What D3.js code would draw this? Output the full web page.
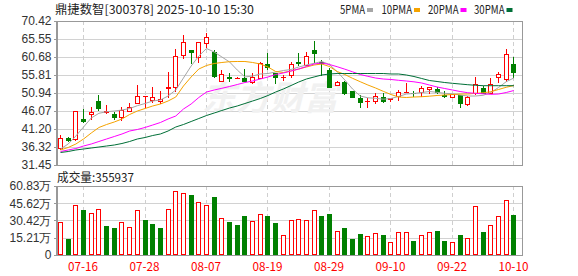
<!DOCTYPE html>
<html>
<head>
<meta charset="utf-8">
<script src="https://cdn.jsdelivr.net/npm/d3@7"></script>
<style>
  body { margin: 0; background: #fff; }
  svg { display: block; }
  .axis text { font-family: "Liberation Sans", Arial, sans-serif; font-size: 12px; fill: #333; }
  .axis path, .axis line { stroke: #999; shape-rendering: crispEdges; }
</style>
</head>
<body>
<svg id="chart" width="578" height="276"></svg>
<script>
// trading days shown
const dates = [
  "07-11","07-14","07-15","07-16","07-17","07-18","07-21","07-22","07-23","07-24",
  "07-25","07-28","07-29","07-30","07-31","08-01","08-04","08-05","08-06","08-07",
  "08-08","08-11","08-12","08-13","08-14","08-15","08-18","08-19","08-20","08-21",
  "08-22","08-25","08-26","08-27","08-28","08-29","09-01","09-02","09-03","09-04",
  "09-05","09-08","09-09","09-10","09-11","09-12","09-15","09-16","09-17","09-18",
  "09-19","09-22","09-23","09-24","09-25","09-26","09-29","09-30","10-09","10-10"
];

const open = [
  35.97,38.84,38.41,43.90,45.17,48.85,45.90,45.17,44.36,46.15,
  48.15,50.05,49.04,48.85,52.20,52.48,61.22,62.57,60.77,64.38,
  61.93,54.18,55.35,54.95,55.08,53.99,55.08,58.70,56.43,55.30,
  55.81,59.20,58.51,62.57,59.41,57.16,53.10,53.99,51.47,49.66,
  48.80,48.85,49.77,49.40,50.13,51.20,50.90,51.12,51.90,52.02,
  50.40,49.94,50.40,48.00,50.85,52.20,51.02,55.18,54.64,58.79
];
const high = [
  39.60,38.95,46.07,46.50,47.23,50.31,47.60,45.90,47.23,48.15,
  53.10,50.20,52.48,51.47,56.54,62.84,66.63,62.60,64.64,67.09,
  62.57,57.16,56.27,55.27,57.34,56.27,59.24,61.84,56.43,55.81,
  59.24,61.66,62.11,65.01,59.87,57.62,54.10,54.10,51.47,50.40,
  49.50,50.85,50.85,49.60,51.75,53.56,51.47,52.83,52.65,52.65,
  51.47,50.60,50.40,50.21,55.40,52.83,55.00,56.70,62.84,60.70
];
const low = [
  35.90,38.00,38.30,43.20,43.90,46.33,45.40,43.90,43.63,46.15,
  48.15,47.23,48.60,48.31,49.77,51.56,60.33,58.97,59.41,63.47,
  55.35,54.18,54.26,54.90,54.18,53.72,55.08,57.34,53.72,54.45,
  55.35,58.51,58.51,59.41,55.81,52.48,53.00,50.70,49.77,47.23,
  47.23,48.15,48.51,48.85,49.04,51.20,50.13,50.13,50.85,51.02,
  49.77,49.80,47.07,47.69,50.70,50.85,50.85,54.00,54.18,55.35
];
const close = [
  38.84,38.35,46.07,43.45,45.71,46.96,46.07,44.50,46.33,47.05,
  50.21,50.13,49.77,49.23,52.48,60.95,64.82,62.10,64.64,66.00,
  55.60,55.99,55.08,55.02,54.18,55.35,58.97,57.89,55.30,55.40,
  58.79,59.08,61.03,61.68,59.10,52.64,53.99,50.85,49.77,48.42,
  48.90,50.13,48.78,49.50,51.12,51.29,50.85,52.37,52.45,51.21,
  50.20,50.58,48.31,49.77,53.50,50.95,53.29,55.99,61.49,56.54
];

// volume in 万 shares
const volume = [
  28.8,14.1,44.1,39.7,37.0,40.6,25.6,23.8,28.8,24.4,
  39.4,30.9,27.3,23.8,40.3,56.2,54.7,52.9,46.4,44.1,
  51.1,32.3,29.1,26.4,34.4,29.7,36.1,34.4,28.2,17.3,
  30.6,31.5,30.6,39.4,34.4,36.4,20.9,23.8,14.1,18.5,
  16.5,19.1,17.6,11.5,20.3,20.3,12.3,17.6,20.3,21.2,
  12.3,11.5,17.6,14.7,43.2,20.3,26.4,34.4,48.2,35.5937
];

// moving averages as drawn
const ma5 = [
  35.78,37.13,39.30,41.73,44.17,45.44,45.87,46.06,46.33,46.74,
  47.50,48.09,48.77,49.04,50.12,51.75,55.00,58.24,60.95,62.98,
  62.03,60.68,59.33,57.16,55.27,55.53,56.08,56.21,56.62,57.02,
  57.29,57.97,58.51,58.97,59.46,58.65,56.70,54.45,52.02,50.12,
  49.64,49.50,49.26,49.45,49.99,50.66,50.80,51.07,51.34,51.12,
  50.85,50.72,50.39,50.12,50.12,50.31,51.07,52.42,53.99,55.00
];
const ma10 = [
  35.51,36.19,37.13,38.49,40.11,41.60,42.41,43.09,43.90,45.12,
  46.06,46.74,47.42,47.96,48.77,49.85,52.83,55.27,57.43,58.38,
  58.92,59.19,59.41,59.46,59.46,59.19,58.78,57.97,56.75,56.48,
  56.89,57.43,57.97,58.51,58.78,58.10,56.75,55.94,54.91,53.99,
  53.10,52.29,51.39,50.53,49.85,49.72,49.85,49.93,50.07,50.26,
  50.39,50.53,50.66,50.66,50.85,50.99,51.29,51.88,52.48,52.96
];
const ma20 = [
  35.10,35.51,35.91,36.59,37.13,37.81,38.49,39.16,39.84,40.65,
  41.06,41.60,42.27,42.95,43.90,44.71,46.60,47.96,49.72,51.20,
  51.75,52.21,52.69,53.23,53.77,54.18,54.72,55.27,55.94,56.35,
  56.89,57.43,58.10,58.78,59.05,58.65,58.05,57.38,56.67,55.94,
  55.45,54.99,54.72,54.59,54.37,54.18,53.96,53.64,53.10,52.56,
  52.15,51.75,51.34,51.01,50.85,50.72,50.58,50.66,51.07,51.61
];
const ma30 = [
  34.83,35.10,35.51,35.78,36.05,36.32,36.59,36.86,37.27,37.81,
  38.49,38.89,39.43,39.84,40.65,41.73,42.41,43.22,44.03,44.84,
  45.52,46.20,46.87,47.42,48.09,48.77,49.45,50.26,51.20,52.02,
  52.96,53.91,54.72,55.27,55.81,56.08,56.21,56.21,56.21,56.21,
  56.21,56.21,56.21,56.08,56.08,55.81,55.40,54.86,54.32,54.05,
  53.77,53.56,53.37,53.18,53.02,52.91,52.91,52.91,52.91,52.91
];

const priceTicks = [70.42, 65.55, 60.68, 55.81, 50.94, 46.07, 41.20, 36.32, 31.45];
const volTicks = [0, 15.21, 30.42, 45.62, 60.83];
const dateTicks = ["07-16", "07-28", "08-07", "08-19", "08-29", "09-10", "09-22", "10-10"];

const maSeries = [
  { name: "5PMA", values: ma5, color: "#a6a6a6" },
  { name: "10PMA", values: ma10, color: "#f5a300" },
  { name: "20PMA", values: ma20, color: "#ff00ff" },
  { name: "30PMA", values: ma30, color: "#006f37" }
];

const UP = "#ff0000", DOWN = "#008000";
const left = 56, right = 522;
const priceTop = 21, priceBottom = 165;
const volTop = 186, volBottom = 255;

const svg = d3.select("#chart");

const x = d3.scalePoint().domain(dates).range([60, 513.4]);
const y = d3.scaleLinear().domain([31.45, 70.42]).range([priceBottom, priceTop]);
const yv = d3.scaleLinear().domain([0, 60.83]).range([volBottom, volTop]);
const px = (d) => Math.round(x(d));

// grid lines
const grid = svg.append("g").attr("shape-rendering", "crispEdges");
grid.selectAll(".hp")
  .data(priceTicks.slice(1, -1))
  .enter().append("line")
  .attr("x1", left).attr("x2", right)
  .attr("y1", (d) => Math.round(y(d)) + 0.5).attr("y2", (d) => Math.round(y(d)) + 0.5)
  .attr("stroke", "#d2d2d2");
grid.selectAll(".hv")
  .data(volTicks.slice(1, -1))
  .enter().append("line")
  .attr("x1", left).attr("x2", right)
  .attr("y1", (d) => Math.round(yv(d)) + 0.5).attr("y2", (d) => Math.round(yv(d)) + 0.5)
  .attr("stroke", "#d2d2d2");
[[priceTop, priceBottom], [volTop, volBottom]].forEach(([t, b]) => {
  grid.selectAll(null)
    .data(dateTicks)
    .enter().append("line")
    .attr("x1", (d) => px(d) + 0.5).attr("x2", (d) => px(d) + 0.5)
    .attr("y1", t).attr("y2", b)
    .attr("stroke", "#cfcfcf")
    .attr("stroke-dasharray", "4,3");
});

// watermark
svg.append("text")
  .attr("x", 202).attr("y", 110)
  .attr("font-family", "Noto Sans CJK SC")
  .attr("font-size", 34).attr("font-weight", "bold").attr("font-style", "italic")
  .attr("fill", "#f1f1f1")
  .text("东方财富");

// candles
const candles = svg.append("g").attr("shape-rendering", "crispEdges");
dates.forEach((d, i) => {
  const cx = px(d);
  const up = close[i] >= open[i];
  const top = Math.round(y(Math.max(open[i], close[i])));
  const bot = Math.round(y(Math.min(open[i], close[i])));
  const hi = Math.round(y(high[i]));
  const lo = Math.round(y(low[i]));
  const col = up ? UP : DOWN;
  if (up) {
    if (hi < top) candles.append("line").attr("x1", cx + 0.5).attr("x2", cx + 0.5).attr("y1", hi).attr("y2", top).attr("stroke", col);
    if (lo > bot) candles.append("line").attr("x1", cx + 0.5).attr("x2", cx + 0.5).attr("y1", bot).attr("y2", lo + 1).attr("stroke", col);
    if (bot - top < 2) {
      candles.append("rect").attr("x", cx - 2).attr("y", top).attr("width", 5).attr("height", Math.max(1, bot - top + 1)).attr("fill", col);
    } else {
      candles.append("rect").attr("x", cx - 1.5).attr("y", top + 0.5).attr("width", 4).attr("height", bot - top)
        .attr("fill", "#fff").attr("stroke", col);
    }
  } else {
    candles.append("line").attr("x1", cx + 0.5).attr("x2", cx + 0.5).attr("y1", hi).attr("y2", lo + 1).attr("stroke", col);
    candles.append("rect").attr("x", cx - 2).attr("y", top).attr("width", 5).attr("height", Math.max(1, bot - top + 1)).attr("fill", col);
  }
});

// moving averages
svg.append("clipPath").attr("id", "pclip").append("rect")
  .attr("x", left).attr("y", priceTop).attr("width", right - left).attr("height", priceBottom - priceTop);
const line = (vals) => d3.line().x((d, i) => x(dates[i]) + 0.5).y((d) => y(d))(vals);
svg.append("g").attr("clip-path", "url(#pclip)")
  .selectAll("path")
  .data(maSeries)
  .enter().append("path")
  .attr("d", (s) => line(s.values))
  .attr("fill", "none")
  .attr("stroke", (s) => s.color)
  .attr("stroke-width", 1);

// volume bars, coloured by change from previous close
const vol = svg.append("g").attr("shape-rendering", "crispEdges");
dates.forEach((d, i) => {
  const cx = px(d);
  const up = i === 0 ? close[i] >= open[i] : close[i] >= close[i - 1];
  const t = Math.round(yv(volume[i]));
  if (up) {
    vol.append("rect").attr("x", cx - 1.5).attr("y", t + 0.5).attr("width", 4).attr("height", volBottom - t - 1)
      .attr("fill", "#fff").attr("stroke", UP);
  } else {
    vol.append("rect").attr("x", cx - 2).attr("y", t).attr("width", 5).attr("height", volBottom - t).attr("fill", DOWN);
  }
});

// frames
[[priceTop, priceBottom], [volTop, volBottom]].forEach(([t, b]) => {
  svg.append("rect")
    .attr("x", left + 0.5).attr("y", t + 0.5)
    .attr("width", right - left).attr("height", b - t)
    .attr("fill", "none").attr("stroke", "#999")
    .attr("shape-rendering", "crispEdges");
});

// axes
svg.append("g").attr("class", "axis")
  .attr("transform", `translate(${left + 0.5},0)`)
  .call(d3.axisLeft(y).tickValues(priceTicks).tickFormat(d3.format(".2f")).tickSize(3).tickSizeOuter(0).tickPadding(2));
svg.append("g").attr("class", "axis")
  .attr("transform", `translate(${left + 0.5},0)`)
  .call(d3.axisLeft(yv).tickValues(volTicks)
    .tickFormat((v) => (v === 0 ? "0" : d3.format(".2f")(v) + "万"))
    .tickSize(3).tickSizeOuter(0).tickPadding(2));

// date labels
svg.append("g").selectAll("text")
  .data(dateTicks)
  .enter().append("text")
  .attr("x", (d) => x(d)).attr("y", 271)
  .attr("text-anchor", "middle")
  .attr("font-family", "Noto Sans CJK SC").attr("font-size", 12)
  .attr("textLength", 30).attr("lengthAdjust", "spacingAndGlyphs")
  .attr("fill", UP)
  .text((d) => d);

// title, legend, volume label
svg.append("text")
  .attr("x", 55).attr("y", 14)
  .attr("font-family", "Noto Sans CJK SC").attr("font-size", 12).attr("fill", "#222")
  .attr("textLength", 199).attr("lengthAdjust", "spacingAndGlyphs")
  .text("鼎捷数智[300378] 2025-10-10 15:30");

const legendX = [340, 381.5, 428, 474];
const legendW = [25, 30.5, 30.5, 30.5];
const legend = svg.append("g").selectAll("g")
  .data(maSeries)
  .enter().append("g");
legend.append("text")
  .attr("x", (s, i) => legendX[i]).attr("y", 14)
  .attr("font-family", "Noto Sans CJK SC").attr("font-size", 12).attr("fill", "#222")
  .attr("textLength", (s, i) => legendW[i]).attr("lengthAdjust", "spacingAndGlyphs")
  .text((s) => s.name);
legend.append("rect")
  .attr("x", (s, i) => legendX[i] + legendW[i] + 2).attr("y", 8)
  .attr("width", 6).attr("height", 4)
  .attr("fill", (s) => s.color);

svg.append("text")
  .attr("x", 57).attr("y", 182)
  .attr("font-family", "Noto Sans CJK SC").attr("font-size", 12).attr("fill", "#222")
  .attr("textLength", 77).attr("lengthAdjust", "spacingAndGlyphs")
  .text("成交量:" + Math.round(volume[volume.length - 1] * 10000));
</script>
</body>
</html>
